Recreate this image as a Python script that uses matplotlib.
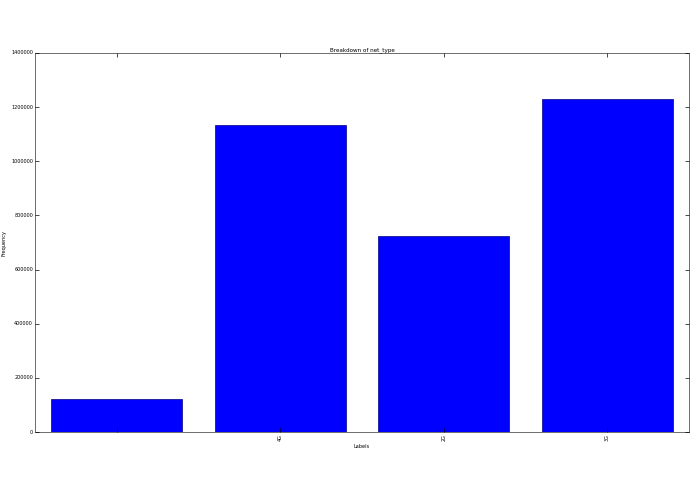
import matplotlib
matplotlib.use("Agg")
import matplotlib.pyplot as plt

plt.style.use("classic")

labels = ["", "4G", "2G", "3G"]
counts = [122000, 1134000, 724000, 1230000]

fig = plt.figure(figsize=(6.95, 4.94), dpi=100)
ax = fig.add_axes([35 / 695, 1 - 432 / 494, (689 - 35) / 695, (432 - 53) / 494])

pos = range(len(labels))
ax.bar(pos, counts, width=0.8, align="center", color="blue", edgecolor="#000080", linewidth=0.5)
ax.set_xlim(-0.5, len(labels) - 0.5)
ax.set_ylim(0, 1400000)
ax.set_xticks(list(pos))
ax.set_xticklabels(labels, rotation=90)
ax.ticklabel_format(axis="y", style="plain", useOffset=False)

ax.tick_params(labelsize=3.5, length=3, width=0.5, pad=1.5)
for s in ax.spines.values():
    s.set_linewidth(0.6)
    s.set_color("#555555")

ax.set_title("Breakdown of net_type", fontsize=4.1, pad=1.5)
ax.set_xlabel("Labels", fontsize=3.6, labelpad=2)
ax.set_ylabel("Frequency", fontsize=3.6)
ax.yaxis.set_label_coords(-28 / 654, 0.5)

fig.savefig("out.png", dpi=100)
